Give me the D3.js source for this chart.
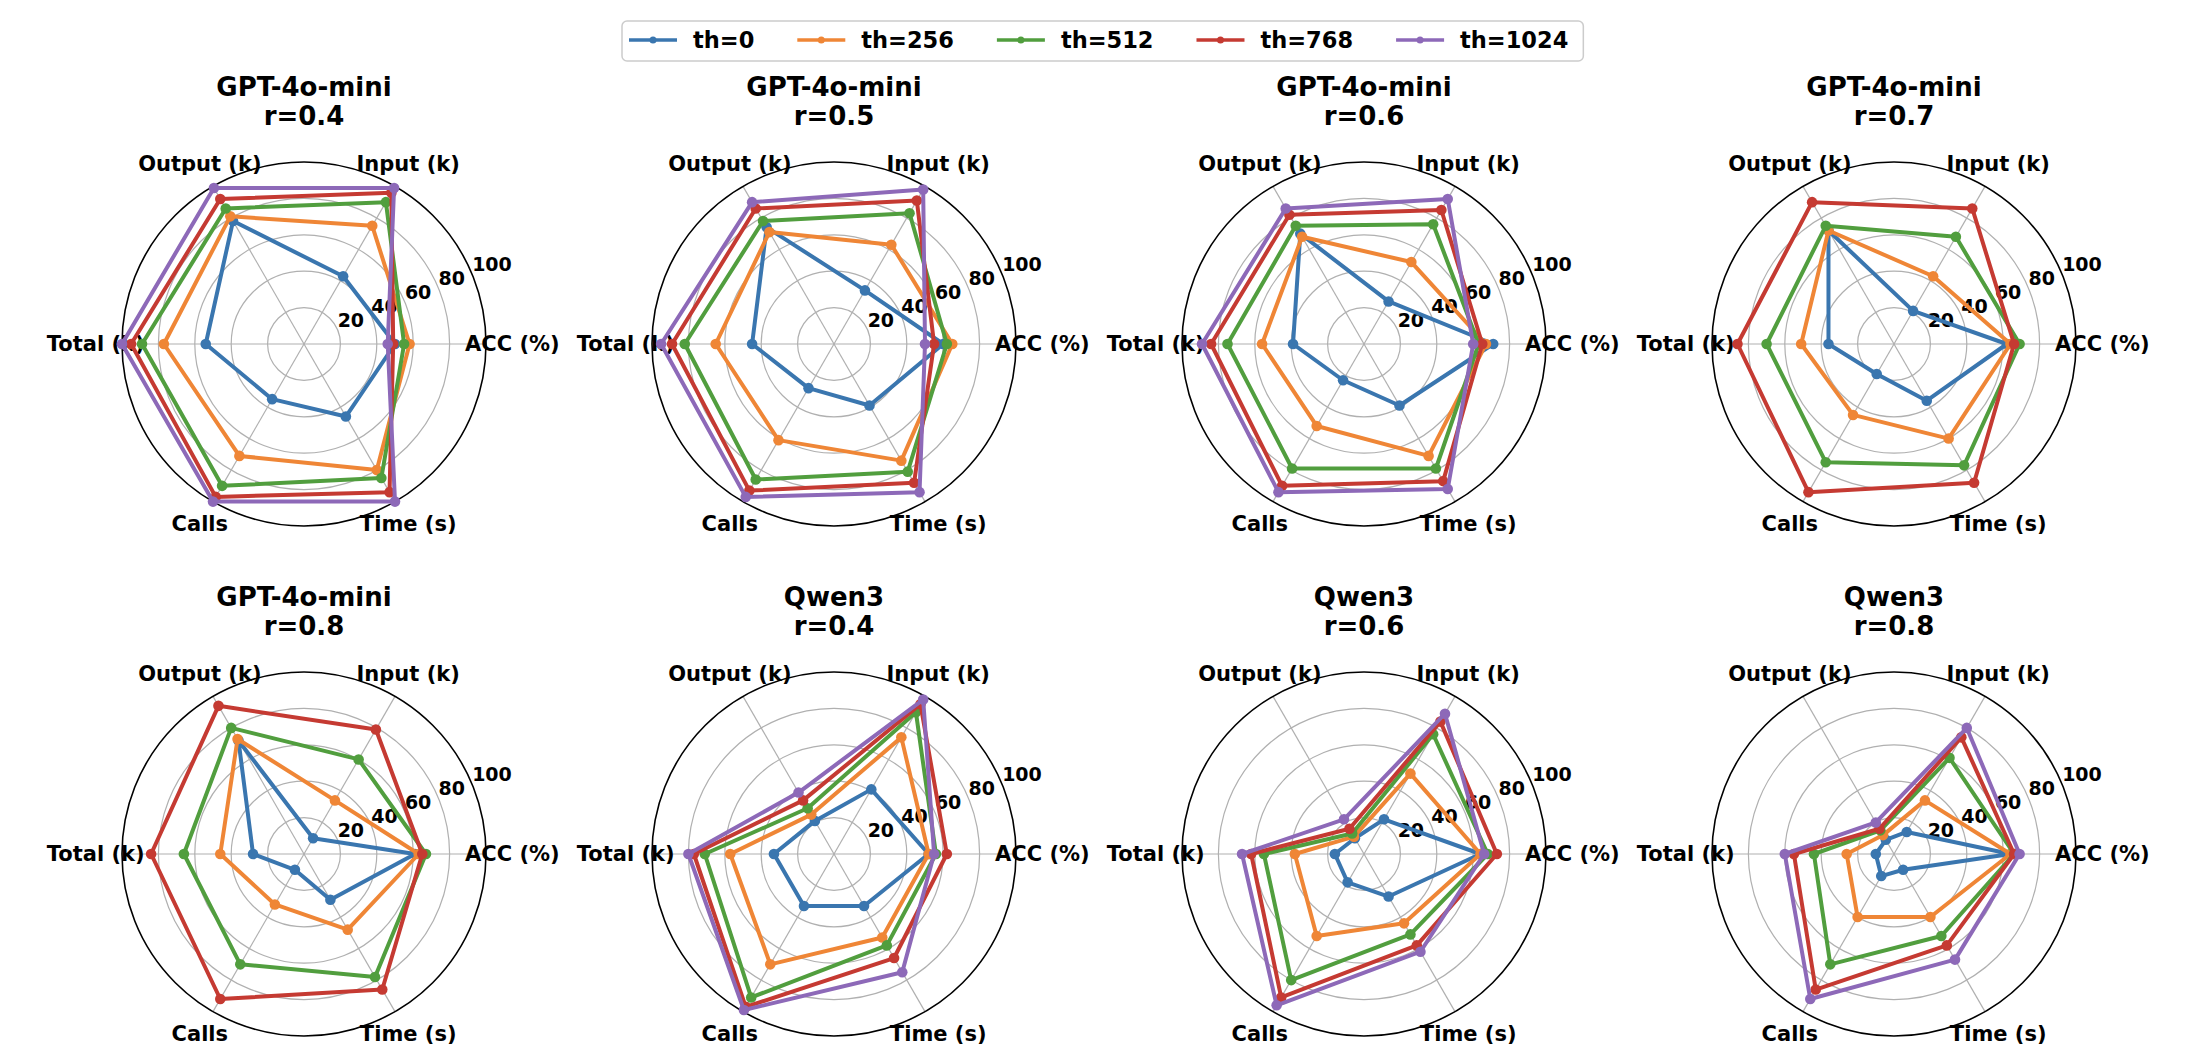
<!DOCTYPE html>
<html>
<head>
<meta charset="utf-8">
<script src="https://cdn.jsdelivr.net/npm/d3@7"></script>
<style>
  body { margin: 0; background: #fff; }
  svg { display: block; font-family: "DejaVu Sans", sans-serif; font-weight: bold; }
</style>
</head>
<body>
<div id="chart"></div>
<script>
// metrics around the circle (counter-clockwise from east)
var metrics = ["ACC (%)", "Input (k)", "Output (k)", "Total (k)", "Calls", "Time (s)"];
var thresholds = ["th=0", "th=256", "th=512", "th=768", "th=1024"];
var colors = ["#3a76af", "#ef8636", "#519e3e", "#c53a32", "#8d69b8"];
var rTicks = [20, 40, 60, 80, 100];

// normalised scores per threshold, order of metrics above
var gpt_r04 = [
  [50, 43, 78, 54, 35, 46],
  [58, 75, 81, 77, 71, 80],
  [55, 90, 86, 89, 90, 85],
  [49, 96, 92, 95, 97, 94],
  [46, 99, 99, 100, 100, 100]
];
var gpt_r05 = [
  [60, 34, 74, 45, 28, 39],
  [65, 63, 71, 65, 61, 74],
  [62, 83, 78, 82, 86, 81],
  [55, 91, 86, 89, 93, 88],
  [50, 98, 90, 95, 97, 94]
];
var gpt_r06 = [
  [71, 27, 70, 39, 23, 39],
  [67, 52, 68, 56, 52, 71],
  [63, 76, 75, 75, 79, 79],
  [65, 85, 82, 84, 90, 87],
  [60, 92, 86, 89, 94, 92]
];
var gpt_r07 = [
  [62, 21, 72, 36, 19, 36],
  [64, 43, 72, 51, 45, 60],
  [69, 68, 75, 70, 75, 77],
  [66, 86, 90, 86, 94, 88],
  null
];
var gpt_r08 = [
  [61, 10, 72, 28, 10, 29],
  [63, 34, 73, 46, 32, 48],
  [67, 60, 80, 66, 70, 78],
  [65, 79, 94, 84, 92, 86],
  null
];
var qwen_r04 = [
  [52, 41, 21, 33, 33, 33],
  [52, 74, 25, 57, 70, 53],
  [56, 90, 29, 71, 91, 58],
  [62, 95, 34, 77, 97, 66],
  [55, 98, 39, 80, 99, 75]
];
var qwen_r06 = [
  [64, 22, 10, 16, 18, 27],
  [64, 51, 11, 38, 52, 44],
  [68, 76, 13, 55, 80, 51],
  [73, 84, 16, 62, 91, 58],
  [66, 89, 22, 67, 96, 62]
];
var qwen_r08 = [
  [64, 14, 9, 10, 14, 10],
  [64, 34, 12, 26, 40, 40],
  [66, 61, 15, 44, 70, 52],
  [66, 74, 16, 55, 86, 58],
  [69, 80, 20, 60, 92, 67]
];

var panelModels = ["GPT-4o-mini", "GPT-4o-mini", "GPT-4o-mini", "GPT-4o-mini",
                   "GPT-4o-mini", "Qwen3", "Qwen3", "Qwen3"];
var panelRatios = ["r=0.4", "r=0.5", "r=0.6", "r=0.7", "r=0.8", "r=0.4", "r=0.6", "r=0.8"];
var panelData = [gpt_r04, gpt_r05, gpt_r06, gpt_r07, gpt_r08, qwen_r04, qwen_r06, qwen_r08];

// layout
var W = 2192, H = 1064;
var R = 182;
var colX = d3.scaleLinear().domain([0, 3]).range([304, 1894]);
var rowY = d3.scaleLinear().domain([0, 1]).range([344, 854]);

var svg = d3.select("#chart").append("svg")
    .attr("width", W)
    .attr("height", H);

var r = d3.scaleLinear().domain([0, 100]).range([0, R]);
// metric index -> angle (radians, for d3 radial: 0 at top, clockwise)
var ang = d3.scaleLinear().domain([0, metrics.length]).range([Math.PI / 2, Math.PI / 2 - 2 * Math.PI]);

var radial = d3.lineRadial()
    .angle(function(d, i) { return ang(i); })
    .radius(function(d) { return r(d); })
    .curve(d3.curveLinearClosed);

function px(i, rad) { return rad * Math.sin(ang(i)); }
function py(i, rad) { return -rad * Math.cos(ang(i)); }

panelData.forEach(function(series, p) {
  var cx = colX(p % 4), cy = rowY(Math.floor(p / 4));
  var g = svg.append("g").attr("transform", "translate(" + cx + "," + cy + ")");

  // titles
  g.append("text").attr("x", 0).attr("y", -248)
    .attr("text-anchor", "middle").style("font-size", "26px")
    .text(panelModels[p]);
  g.append("text").attr("x", 0).attr("y", -219)
    .attr("text-anchor", "middle").style("font-size", "26px")
    .text(panelRatios[p]);

  // grid circles
  g.selectAll(".grid").data(rTicks.slice(0, -1)).enter().append("circle")
    .attr("r", function(d) { return r(d); })
    .attr("fill", "none").attr("stroke", "#b0b0b0").attr("stroke-width", 1.2);

  // spokes
  g.selectAll(".spoke").data(metrics).enter().append("line")
    .attr("x1", 0).attr("y1", 0)
    .attr("x2", function(d, i) { return px(i, r(100)); })
    .attr("y2", function(d, i) { return py(i, r(100)); })
    .attr("stroke", "#b0b0b0").attr("stroke-width", 1.2);

  // outer frame
  g.append("circle").attr("r", r(100))
    .attr("fill", "none").attr("stroke", "black").attr("stroke-width", 1.6);

  // radial tick labels at 22.5 deg
  var rlab = 22.5 * Math.PI / 180;
  g.selectAll(".rtick").data(rTicks).enter().append("text")
    .attr("x", function(d) { return r(d) * Math.cos(rlab); })
    .attr("y", function(d) { return -r(d) * Math.sin(rlab) - 3; })
    .attr("text-anchor", "start")
    .style("font-size", "19px")
    .text(function(d) { return d; });

  // metric labels
  g.selectAll(".mlab").data(metrics).enter().append("text")
    .attr("x", function(d, i) { return px(i, R * 1.145); })
    .attr("y", function(d, i) { return py(i, R * 1.145); })
    .attr("text-anchor", "middle")
    .attr("dominant-baseline", "central")
    .style("font-size", "21px")
    .text(function(d) { return d; });

  // series
  series.forEach(function(vals, s) {
    if (!vals) return;
    var sg = g.append("g");
    sg.append("path")
      .attr("d", radial(vals))
      .attr("fill", "none")
      .attr("stroke", colors[s])
      .attr("stroke-width", 4)
      .attr("stroke-linejoin", "round");
    sg.selectAll("circle").data(vals).enter().append("circle")
      .attr("cx", function(d, i) { return px(i, r(d)); })
      .attr("cy", function(d, i) { return py(i, r(d)); })
      .attr("r", 5.3)
      .attr("fill", colors[s]);
  });
});

// legend
var legend = svg.append("g");
var box = legend.append("rect")
    .attr("x", 622).attr("y", 21).attr("height", 40)
    .attr("rx", 5).attr("ry", 5)
    .attr("fill", "white").attr("fill-opacity", 0.8)
    .attr("stroke", "#cccccc").attr("stroke-width", 1.5);

var lx = 629, ly = 40;
thresholds.forEach(function(t, i) {
  legend.append("line")
    .attr("x1", lx).attr("x2", lx + 48)
    .attr("y1", ly).attr("y2", ly)
    .attr("stroke", colors[i]).attr("stroke-width", 3.5);
  legend.append("circle")
    .attr("cx", lx + 24).attr("cy", ly).attr("r", 3.5)
    .attr("fill", colors[i]);
  var txt = legend.append("text")
    .attr("x", lx + 64).attr("y", 48)
    .style("font-size", "22.5px")
    .text(t);
  var w = txt.node().getComputedTextLength();
  lx = lx + 64 + w + (i < thresholds.length - 1 ? 43 : 8);
});
box.attr("width", lx - 622 + 7);
</script>
</body>
</html>
